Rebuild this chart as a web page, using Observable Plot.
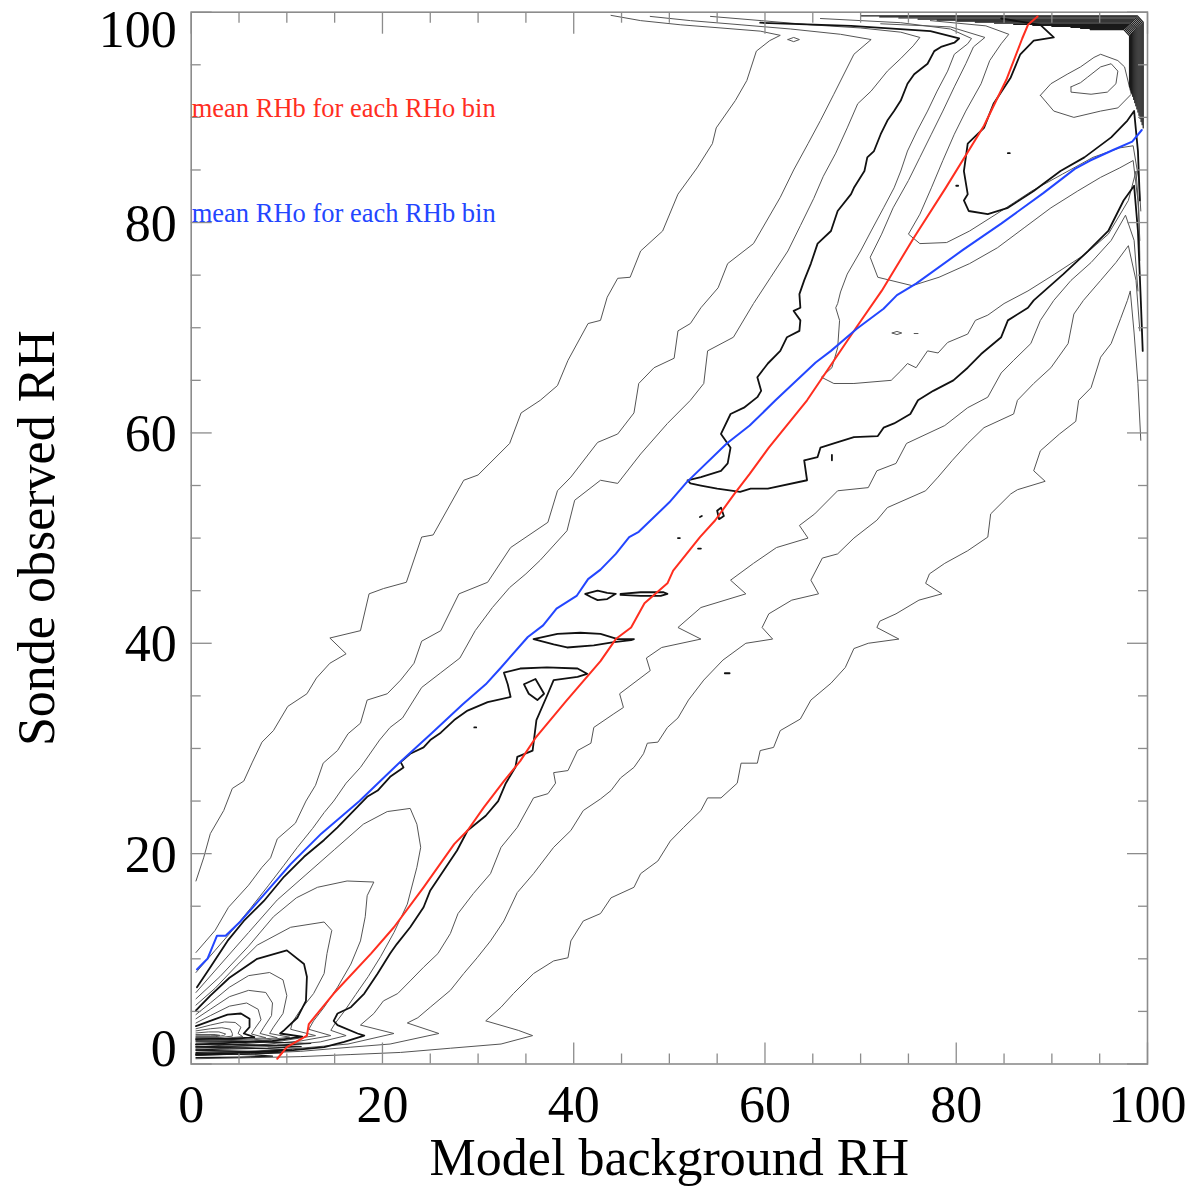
<!DOCTYPE html>
<html><head><meta charset="utf-8">
<script src="https://cdn.jsdelivr.net/npm/d3@7"></script>
<script src="https://cdn.jsdelivr.net/npm/@observablehq/plot@0.6"></script>
<style>html,body{margin:0;padding:0;background:#fff}svg{display:block}</style>
</head><body><div id="chart"></div>
<script>
// ---------- tick values ----------
const majorTicks = [0, 20, 40, 60, 80, 100];
const minorTicks = [5, 10, 15, 25, 30, 35, 45, 50, 55, 65, 70, 75, 85, 90, 95];
const xTickLabels = ["0", "20", "40", "60", "80", "100"];
const yTickLabels = ["0", "20", "40", "60", "80", "100"];
const xTitle = "Model background RH";
const yTitle = "Sonde observed RH";
const redLabel = "mean RHb for each RHo bin";
const blueLabel = "mean RHo for each RHb bin";

// ---------- mean curves [RHb, RHo] ----------
const redMean = [[9.0,0.5],[10.0,1.6],[12.1,2.7],[12.3,3.8],[14.9,6.7],[18.8,10.5],[21.2,13.0],[24.3,16.8],[27.5,20.9],[28.9,22.2],[30.6,24.4],[32.7,26.9],[34.4,28.8],[36.0,31.0],[39.2,34.5],[42.8,38.3],[44.4,40.4],[46.0,41.5],[47.4,43.8],[49.8,45.7],[50.4,46.9],[53.2,50.1],[54.8,51.7],[56.8,54.2],[58.4,56.1],[60.4,58.6],[64.4,63.1],[69.6,70.1],[72.2,73.5],[75.6,78.6],[78.9,83.3],[82.9,89.2],[85.3,93.7],[86.9,97.5],[87.5,98.8],[88.5,99.6]];
const blueMean = [[0.6,9.0],[1.7,10.0],[2.7,12.2],[3.6,12.2],[5.2,13.6],[8.0,16.5],[10.4,19.0],[13.6,21.9],[17.6,25.0],[21.6,28.5],[25.2,31.5],[28.4,34.2],[30.8,36.1],[32.4,37.7],[35.2,40.6],[36.8,41.7],[38.2,43.3],[40.3,44.5],[41.5,46.1],[42.8,47.0],[44.4,48.5],[45.8,50.1],[46.8,50.6],[50.0,53.4],[51.8,55.3],[56.0,59.0],[58.4,60.7],[61.1,63.1],[65.3,66.7],[66.9,67.8],[69.6,69.9],[72.4,71.8],[73.8,73.1],[75.8,74.2],[80.7,77.4],[84.7,79.9],[89.1,82.8],[92.4,85.1],[94.0,85.9],[96.4,86.9],[98.4,87.7],[99.4,88.8]];

// ---------- contour paths [RHb, RHo] ----------
const U1 = [[0.5,17.4],[1.3,19.6],[2.0,21.9],[3.4,24.1],[4.3,26.2],[5.5,26.9],[6.4,28.7],[7.4,30.6],[8.6,31.7],[10.1,34.0],[12.1,35.2],[13.1,36.7],[14.5,38.1],[16.2,39.0],[14.5,40.5],[17.7,41.2],[18.6,44.7],[20.1,45.2],[22.5,45.8],[24.1,50.1],[25.3,50.3],[28.5,55.5],[30.0,56.0],[33.3,59.0],[34.5,61.9],[36.5,63.1],[38.3,64.5],[39.4,66.9],[41.5,70.4],[42.8,70.7],[43.5,72.9],[44.6,74.7],[45.9,74.8],[47.0,77.3],[49.3,79.2],[50.9,82.7],[52.9,85.2],[54.5,87.5],[54.9,89.0],[56.9,91.6],[58.1,93.5],[59.1,96.3],[60.5,97.3],[61.6,97.8],[59.5,98.2],[55.4,98.5],[51.2,98.8],[47.0,99.2],[43.9,99.7]];
const U2 = [[0.5,10.6],[2.5,12.7],[3.9,14.9],[6.0,17.0],[7.4,18.7],[8.3,19.6],[9.0,21.4],[10.9,22.9],[12.0,25.0],[13.0,26.5],[13.8,28.6],[15.3,29.8],[16.4,31.4],[17.7,32.4],[18.4,34.6],[20.5,35.2],[21.9,36.5],[23.3,38.1],[24.1,40.2],[26.1,41.2],[28.0,44.7],[31.0,45.8],[33.4,49.1],[37.3,51.5],[38.3,54.5],[39.7,55.8],[42.5,59.1],[44.6,59.9],[46.3,61.9],[46.8,64.7],[48.4,66.2],[50.5,67.1],[50.9,69.7],[52.2,70.4],[53.3,71.9],[55.1,73.8],[56.1,76.1],[58.8,78.0],[61.6,82.4],[63.0,85.0],[64.5,87.5],[65.8,89.7],[67.2,92.2],[69.3,96.0],[71.1,97.4],[67.9,97.9],[62.7,98.4],[57.5,98.8],[52.2,99.2],[48.0,99.6]];
const U3 = [[0.5,8.7],[2.5,10.8],[4.3,12.7],[6.2,14.8],[8.1,17.0],[9.7,18.9],[11.1,20.6],[12.7,22.4],[13.9,23.9],[14.9,25.0],[16.2,26.7],[17.7,28.2],[19.7,30.8],[20.8,32.0],[22.1,32.9],[24.1,35.8],[26.1,37.2],[28.1,38.6],[29.7,41.2],[31.5,43.4],[33.3,45.3],[35.0,46.6],[36.5,47.9],[39.3,50.7],[40.1,53.6],[42.8,55.5],[44.6,55.2],[47.0,58.0],[49.8,60.9],[52.2,63.1],[53.6,64.7],[54.0,67.8],[56.7,69.1],[58.8,72.3],[60.6,74.8],[62.4,77.3],[63.7,79.7],[65.1,82.3],[66.1,84.4],[67.4,86.6],[68.6,89.0],[69.7,91.3],[71.1,92.5],[72.8,94.4],[74.2,95.6],[75.5,96.8],[76.2,97.6],[74.2,98.1],[70.0,98.5],[64.8,98.8],[59.6,99.2],[54.3,99.6]];
const Klow = [[0.6,7.3],[2.0,9.2],[3.8,11.7],[5.5,13.6],[7.6,15.5],[9.7,17.8],[11.8,19.7],[13.9,21.3],[15.3,22.5],[17.0,24.1],[18.4,25.4],[19.5,26.0],[20.8,27.3],[22.2,28.2],[21.9,28.7],[22.9,29.5],[24.3,30.1],[25.0,30.8],[26.1,31.5],[27.5,32.7],[28.9,33.6],[31.0,34.4],[33.4,34.9],[33.1,36.1],[32.7,37.2],[34.4,37.6],[37.2,37.7],[40.4,37.6],[41.4,37.1],[40.4,36.8],[37.9,36.5],[37.3,35.2],[36.1,32.7],[35.7,29.8],[34.1,29.2],[33.9,28.2],[32.9,26.7],[32.1,25.0],[30.8,23.6],[28.9,22.2],[27.8,20.3],[26.4,18.4],[25.0,16.5],[24.3,14.9],[22.9,13.0],[21.5,11.4],[20.8,10.5],[19.5,8.6],[18.1,6.7],[16.7,5.4],[15.3,4.8],[14.9,4.1],[15.3,3.7],[17.4,2.9],[18.1,2.7],[16.0,2.1],[13.9,1.6],[10.4,1.3],[6.2,1.1],[0.5,0.9]];
const Kup = [[59.5,99.0],[69.0,98.7],[77.3,98.2],[80.3,97.5],[79.8,97.1],[78.4,96.7],[77.7,96.3],[77.0,95.1],[75.6,94.1],[74.9,93.2],[74.2,91.6],[73.5,90.6],[72.8,89.7],[72.1,88.4],[71.4,86.8],[70.7,86.2],[70.4,84.9],[69.3,83.3],[69.0,82.7],[67.6,81.1],[66.9,79.2],[65.5,78.0],[64.8,76.1],[64.1,74.5],[63.6,73.2],[63.7,71.9],[63.0,71.6],[63.7,70.7],[63.6,69.7],[62.3,69.1],[61.6,67.8],[60.3,66.6],[59.2,65.3],[59.6,64.0],[59.2,63.4],[57.8,62.4],[56.4,61.8],[55.4,59.9],[56.4,58.6],[56.1,57.1],[55.4,56.4],[53.3,55.8],[51.9,55.5],[52.2,55.2],[53.3,55.0],[55.0,54.7],[57.4,54.4],[58.5,54.7],[60.3,54.7],[64.4,55.5],[64.1,57.4],[65.5,57.7],[65.8,58.6],[67.2,59.0],[69.3,59.6],[71.8,59.7],[72.4,60.5],[73.5,60.9],[75.2,61.8],[76.0,63.1],[77.6,64.0],[79.7,65.0],[81.2,66.2],[82.6,67.5],[84.7,69.1],[85.4,70.7],[87.5,71.9],[88.1,72.6],[91.2,75.1],[93.8,77.3],[95.9,79.2],[97.5,82.1],[98.6,83.5],[99.0,79.2],[99.3,72.6],[99.5,67.8]];
const I1 = [[65.8,99.4],[74.2,99.0],[79.4,98.4],[81.6,97.5],[81.2,97.0],[79.8,96.0],[79.1,94.4],[78.0,92.5],[77.0,90.6],[75.9,88.7],[74.9,86.8],[74.2,84.9],[73.5,83.3],[72.4,81.4],[71.1,79.2],[70.0,77.3],[68.6,75.1],[67.9,73.4],[67.6,72.3],[67.4,71.9],[67.8,70.7],[67.6,68.1],[67.0,66.2],[65.9,65.3],[67.2,64.7],[69.3,64.7],[73.2,65.0],[74.2,65.9],[74.9,66.6],[75.8,66.2],[77.0,67.8],[78.1,67.6],[79.1,68.6],[81.2,69.4],[82.0,70.7],[83.3,71.2],[85.0,72.3],[87.5,73.5],[90.3,75.1],[93.5,77.0],[95.9,78.9],[98.0,82.1],[98.8,84.9],[99.1,81.1],[99.2,76.4]];
const J6 = [[72.1,98.9],[79.4,98.6],[83.0,97.6],[81.8,96.7],[81.0,95.1],[79.8,92.9],[78.6,90.6],[77.4,88.4],[76.2,86.2],[75.0,84.0],[73.4,81.4],[72.2,78.9],[71.0,76.7],[71.8,74.8],[75.4,74.0],[78.2,74.8],[81.4,76.1],[84.3,77.6],[87.1,79.5],[89.9,81.4],[92.7,83.0],[95.1,84.3],[97.1,85.2],[98.5,85.9],[99.0,82.1],[99.2,78.3]];
const J7 = [[77.3,99.2],[83.1,98.7],[85.5,97.9],[84.7,97.0],[83.5,95.4],[82.6,93.2],[81.0,90.6],[79.8,88.4],[78.6,85.9],[77.4,83.3],[76.2,80.8],[75.0,78.9],[76.2,78.0],[79.0,78.1],[81.4,79.2],[84.7,81.1],[87.9,83.0],[91.1,84.6],[94.3,86.2],[97.1,87.1],[98.5,87.3],[99.1,84.0],[99.3,81.1]];
const I2 = [[84.7,99.4],[88.8,98.8],[90.2,97.6],[88.1,97.3],[86.7,96.0],[85.7,93.8],[83.9,91.3],[82.9,89.0],[81.2,87.5],[80.8,84.9],[81.2,82.7],[80.8,82.1],[81.3,81.1],[83.3,80.8],[85.4,81.4],[88.1,83.0],[90.9,84.9],[93.4,86.2],[96.2,88.1],[97.9,89.7],[98.6,90.6],[99.0,86.8],[99.2,82.1]];
const I3 = [[88.8,92.1],[89.9,93.2],[91.6,94.1],[93.0,94.8],[94.4,95.7],[95.1,96.0],[96.9,95.4],[97.6,94.8],[98.3,92.2],[96.9,90.9],[95.1,90.6],[92.3,90.0],[90.2,90.6],[88.8,92.1]];
const I4 = [[92.0,92.9],[93.0,93.3],[93.7,93.8],[95.1,94.8],[96.2,95.1],[96.9,94.4],[96.7,93.2],[95.8,92.4],[94.1,92.2],[92.0,92.4],[92.0,92.9]];
const L1 = [[0.5,1.0],[6.2,1.2],[11.4,1.5],[16.4,1.9],[21.2,2.9],[17.7,3.7],[19.1,4.8],[20.1,6.0],[21.6,6.7],[22.9,7.9],[24.3,9.2],[25.8,10.5],[27.1,12.4],[27.9,14.3],[29.5,16.2],[31.3,18.1],[32.4,20.6],[34.1,22.5],[35.8,25.3],[37.3,25.7],[38.1,26.7],[37.9,27.7],[39.4,27.9],[40.4,29.8],[41.8,30.5],[42.1,32.0],[44.2,33.3],[45.2,33.9],[44.8,35.2],[48.0,37.4],[47.6,38.6],[49.2,39.6],[53.3,40.4],[50.9,41.5],[53.3,43.4],[58.0,44.7],[56.4,46.0],[58.8,47.6],[61.2,49.1],[64.5,50.0],[63.6,51.2],[65.2,52.3],[67.6,54.5],[70.8,54.8],[71.7,56.4],[73.7,57.1],[74.8,59.0],[78.8,60.7],[81.2,62.4],[83.3,63.4],[84.7,65.7],[86.0,66.9],[87.8,68.5],[88.8,70.7],[90.2,72.6],[92.0,74.5],[94.1,76.2],[96.2,78.3],[97.7,80.7],[98.6,78.3],[99.0,73.5]];
const L2 = [[0.5,0.8],[6.2,1.0],[11.4,1.2],[16.7,1.6],[20.8,1.9],[25.9,2.9],[22.6,3.9],[23.7,4.4],[25.0,5.4],[27.1,7.0],[28.5,8.6],[29.9,10.1],[31.3,11.7],[32.7,13.6],[34.1,16.3],[35.8,18.1],[37.9,20.6],[39.7,22.2],[41.0,24.1],[42.8,25.2],[43.9,26.0],[44.9,27.2],[46.3,28.2],[47.3,29.5],[47.7,30.5],[48.8,30.6],[49.8,32.0],[50.9,32.9],[52.0,34.6],[53.6,36.5],[55.6,38.4],[58.0,40.0],[60.8,40.4],[59.7,41.5],[60.4,42.8],[62.8,44.1],[65.6,44.7],[64.8,46.0],[66.0,48.1],[67.6,48.5],[69.3,50.0],[71.7,51.7],[72.8,52.9],[76.8,54.5],[78.1,55.8],[79.6,57.4],[81.2,59.0],[82.9,60.5],[86.0,61.8],[86.4,63.1],[88.1,64.7],[89.9,66.2],[91.7,68.5],[92.3,71.3],[93.3,72.6],[95.1,74.5],[96.7,76.2],[98.0,77.8],[98.8,74.5],[99.2,69.7]];
const L3 = [[0.5,0.5],[6.2,0.6],[11.4,0.7],[16.7,0.9],[21.9,1.1],[27.1,1.5],[32.4,1.9],[35.7,2.7],[34.2,3.2],[30.8,4.1],[32.4,5.4],[33.7,6.7],[35.8,8.6],[37.9,9.8],[39.4,10.1],[39.7,11.7],[41.0,13.6],[42.8,14.3],[43.9,15.8],[46.3,16.8],[47.0,18.1],[48.8,19.3],[50.1,21.2],[51.5,22.5],[53.3,24.1],[54.0,25.3],[55.4,25.3],[57.1,26.7],[57.5,28.6],[59.2,28.6],[59.5,29.8],[60.9,30.1],[61.6,31.7],[63.7,32.8],[64.8,34.6],[66.9,36.2],[68.4,37.7],[69.3,39.5],[70.8,40.0],[74.0,40.4],[71.7,41.5],[72.0,42.1],[73.7,42.8],[76.1,44.1],[78.5,44.7],[76.8,45.7],[77.2,46.6],[78.8,47.6],[81.2,48.8],[83.3,50.1],[83.6,52.3],[85.7,54.2],[86.4,54.6],[89.3,55.4],[88.1,56.4],[88.8,58.3],[90.8,59.9],[92.5,61.1],[92.8,63.1],[94.1,64.3],[95.1,67.2],[96.2,68.5],[97.2,70.9],[97.9,72.6],[98.2,73.5],[98.6,69.5],[99.0,64.7],[99.3,59.3]];
const N1 = [[0.5,6.8],[3,9.4],[6,12.5],[9,15.6],[12,18.0],[15,20.4],[18,22.8],[20.5,24.0],[22.9,24.3],[23.6,22.8],[24.0,20.6],[23.6,18.7],[22.6,15.2],[21.2,12.5],[19.8,10.2],[18.5,8.3],[17.2,6.6],[16.0,5.0],[15.0,3.8],[14.6,3.2],[16.2,2.7],[13.5,2.1],[9,1.7],[4,1.5],[0.5,1.4]];
const N2 = [[0.5,6.2],[3,8.3],[6,11.2],[8.6,14.0],[11,15.8],[13.2,16.8],[16.3,17.4],[19.1,17.3],[18.4,16.0],[18.2,14.0],[17.7,11.7],[16.7,9.5],[15.3,7.3],[13.9,5.4],[12.8,4.1],[12.3,3.3],[14.6,2.7],[11.5,2.2],[7,1.8],[3,1.6],[0.5,1.5]];
const N3 = [[0.5,5.6],[2.5,7.2],[4.8,9.4],[6.9,11.3],[10.4,13.0],[13.9,13.5],[14.7,12.7],[14.2,10.5],[13.9,8.6],[12.8,6.7],[11.4,5.1],[10.6,4.0],[10.4,3.3],[13.0,2.7],[9.5,2.2],[5,1.9],[2,1.7],[0.5,1.65]];
const N4 = [[0.5,5.1],[2,6.5],[4,8.2],[6.9,10.0],[10.0,10.8],[11.8,9.5],[12.1,8.3],[12.0,6.0],[11.1,4.4],[9.7,3.2],[9.3,2.9],[11.6,2.6],[8.5,2.2],[4,2.0],[0.5,1.85]];
const N5 = [[0.5,4.7],[2,5.8],[4,7.3],[6,8.4],[8.2,8.7],[9.6,8.0],[10.0,6.5],[9.6,4.8],[8.6,3.5],[8.2,2.9],[10.3,2.55],[7.5,2.25],[4,2.1],[0.5,2.0]];
const N6 = [[0.5,4.3],[2,5.2],[4,6.4],[6,7.0],[7.8,6.8],[8.5,5.8],[8.4,4.6],[7.6,3.5],[7.2,2.9],[9.0,2.5],[6.5,2.3],[3,2.2],[0.5,2.15]];
const N7 = [[0.5,3.9],[2,4.6],[4,5.5],[5.8,5.8],[7.0,5.2],[7.3,4.2],[6.6,3.3],[6.3,2.85],[7.8,2.5],[5.5,2.35],[2.5,2.3],[0.5,2.28]];
const N8 = [[0.5,3.6],[2,4.1],[3.8,4.7],[5.2,4.8],[6.1,4.3],[6.1,3.5],[5.5,2.9],[6.6,2.55],[4.5,2.4],[2,2.38],[0.5,2.37]];
const N9 = [[0.5,3.35],[2,3.7],[3.5,4.0],[4.6,3.95],[5.2,3.5],[4.9,2.9],[5.4,2.6],[3.5,2.45],[0.5,2.45]];
const N10 = [[0.5,3.15],[2,3.35],[3.2,3.45],[4.1,3.3],[4.3,2.9],[4.3,2.65],[3,2.52],[0.5,2.52]];
const N11 = [[0.5,2.95],[1.8,3.05],[2.9,3.05],[3.6,2.85],[3.4,2.7],[2.5,2.6],[0.5,2.6]];
const N12 = [[0.5,2.8],[2.5,2.8],[3.0,2.72],[2,2.68],[0.5,2.68]];
// saturated bottom row near the origin
const B1 = [[0.5,2.2],[5,2.15],[9,2.05],[12.5,1.95],[9,1.8],[4,1.7],[0.5,1.65]];
const B2 = [[0.5,1.9],[5,1.85],[9.5,1.75],[11.5,1.65],[8,1.5],[3,1.4],[0.5,1.35]];
const B3 = [[0.5,1.6],[4,1.55],[8,1.45],[10.5,1.35],[7,1.2],[3,1.15],[0.5,1.1]];
const B4 = [[0.5,1.3],[4,1.25],[7.5,1.15],[9.5,1.05],[6,0.95],[0.5,0.85]];
const B5 = [[0.5,1.0],[3.5,0.95],[7,0.85],[8.5,0.75],[5,0.65],[0.5,0.6]];
// saturated top row / right column band
const CB0 = [[70,99.65],[98.95,99.65],[99.55,99.05],[99.55,89.0]];
const CB1 = [[72,99.55],[98.84,99.55],[99.44,98.95],[99.44,89.3]];
const CB2 = [[74,99.45],[98.73,99.45],[99.33,98.85],[99.33,89.6]];
const CB3 = [[76,99.35],[98.62,99.35],[99.22,98.75],[99.22,89.9]];
const CB4 = [[78,99.25],[98.51,99.25],[99.11,98.65],[99.11,90.2]];
const CB5 = [[80,99.15],[98.4,99.15],[99.0,98.55],[99.0,90.5]];
const CB6 = [[82,99.05],[98.29,99.05],[98.89,98.45],[98.89,90.8]];
const CB7 = [[84,98.95],[98.18,98.95],[98.78,98.35],[98.78,91.1]];
const CB8 = [[86,98.85],[98.07,98.85],[98.67,98.25],[98.67,91.4]];
const CB9 = [[88,98.75],[97.96,98.75],[98.56,98.15],[98.56,91.7]];
const CB10 = [[90,98.65],[97.85,98.65],[98.45,98.05],[98.45,92.0]];
const CB11 = [[92,98.55],[97.74,98.55],[98.34,97.95],[98.34,92.3]];
const CB12 = [[93,98.45],[97.63,98.45],[98.23,97.85],[98.23,92.6]];
const CB13 = [[94,98.35],[97.52,98.35],[98.12,97.75],[98.12,92.9]];
// islands
const lensA = [[35.8,40.4],[38.3,40.9],[40.7,41.0],[42.8,40.9],[44.6,40.4],[46.3,40.4],[46.0,40.3],[44.2,40.1],[42.1,39.8],[39.3,39.6],[37.9,39.9],[35.8,40.4]];
const lensB1 = [[41.2,44.7],[42.5,45.0],[43.5,44.8],[44.4,44.7],[43.5,44.2],[42.5,44.1],[41.8,44.4],[41.2,44.7]];
const lensB2 = [[44.9,44.7],[47.0,44.85],[49.4,44.85],[49.8,44.7],[49.1,44.5],[47.0,44.5],[44.9,44.6],[44.9,44.7]];
const diamond = [[34.8,36.1],[36.0,36.6],[36.9,35.2],[36.2,34.6],[35.3,35.2],[34.8,36.1]];
const blob = [[55.0,52.6],[55.4,52.9],[55.7,52.1],[55.2,51.8],[55.0,52.6]];
const dash1 = [[67.0,57.4],[67.0,57.9]];
const dash2 = [[55.8,37.15],[56.3,37.15]];
const dot1 = [[53.2,52.0],[53.4,52.1]];
const dot2 = [[50.9,50.0],[51.1,50.0]];
const dot3 = [[53.0,49.0],[53.3,49.0]];
const dot4 = [[29.6,32.0],[29.8,32.0]];
const topEllipse = [[62.4,97.4],[63.0,97.6],[63.6,97.4],[63.0,97.2],[62.4,97.4]];
const midEllipse = [[73.3,69.5],[73.8,69.65],[74.3,69.5],[73.8,69.35],[73.3,69.5]];
const dot5 = [[75.6,69.45],[76.0,69.45]];
const dot6 = [[85.4,86.6],[85.6,86.6]];
const dot7 = [[80.0,83.5],[80.2,83.5]];

const thinPaths = {U1, U2, U3, I1, J6, J7, I3, I4, L1, L2, L3, N1, N2, N3, N5, N6, N7, N9, N10, N11, N12, topEllipse, midEllipse, dot5};
const densePaths = {B1, B2, B3, B4, B5, CB0, CB1, CB2, CB3, CB4, CB5, CB6, CB7, CB8, CB9, CB10, CB11, CB12, CB13};
const thickPaths = {Klow, Kup, I2, N4, N8, lensA, lensB1, lensB2, diamond, blob, dash1, dash2, dot1, dot2, dot3, dot4, dot6, dot7};

function toRows(paths) {
  const rows = [];
  for (const [id, pts] of Object.entries(paths)) pts.forEach(([x, y], i) => rows.push({id, i, x, y}));
  return rows;
}
const thinRows = toRows(thinPaths);
const denseRows = toRows(densePaths);
const thickRows = toRows(thickPaths);
const redRows = redMean.map(([x, y]) => ({x, y}));
const blueRows = blueMean.map(([x, y]) => ({x, y}));

const RED = "#ff2e1f";
const BLUE = "#2346ff";
const AXIS = "#8c8c8c";
const FONT = "'Liberation Serif','Times New Roman',Times,serif";

const chart = Plot.plot({
  width: 1203,
  height: 1186,
  marginLeft: 190.7,
  marginRight: 56,
  marginTop: 11.7,
  marginBottom: 122.5,
  x: {domain: [0, 100], axis: null},
  y: {domain: [0, 100], axis: null},
  style: {background: "#fff", fontFamily: FONT, color: "#000"},
  marks: [
    Plot.line(thinRows, {x: "x", y: "y", z: "id", stroke: "#555", strokeWidth: 1, strokeLinejoin: "round"}),
    Plot.line(denseRows, {x: "x", y: "y", z: "id", stroke: "#1a1a1a", strokeWidth: 1.2, strokeLinejoin: "round"}),
    Plot.line(thickRows, {x: "x", y: "y", z: "id", stroke: "#111", strokeWidth: 1.8, strokeLinejoin: "round"}),
    Plot.line(redRows, {x: "x", y: "y", stroke: RED, strokeWidth: 2}),
    Plot.line(blueRows, {x: "x", y: "y", stroke: BLUE, strokeWidth: 2}),
    Plot.frame({stroke: AXIS, strokeWidth: 1.6}),
    // ticks (inward) on all four sides
    Plot.axisX({ticks: majorTicks, anchor: "bottom", tickSize: -21, tickFormat: () => "", label: null, stroke: AXIS, strokeWidth: 1.3}),
    Plot.axisX({ticks: minorTicks, anchor: "bottom", tickSize: -10, tickFormat: () => "", label: null, stroke: AXIS, strokeWidth: 1.3}),
    Plot.axisX({ticks: majorTicks, anchor: "top", tickSize: -21, tickFormat: () => "", label: null, stroke: AXIS, strokeWidth: 1.3}),
    Plot.axisX({ticks: minorTicks, anchor: "top", tickSize: -10, tickFormat: () => "", label: null, stroke: AXIS, strokeWidth: 1.3}),
    Plot.axisY({ticks: majorTicks, anchor: "left", tickSize: -21, tickFormat: () => "", label: null, stroke: AXIS, strokeWidth: 1.3}),
    Plot.axisY({ticks: minorTicks, anchor: "left", tickSize: -10, tickFormat: () => "", label: null, stroke: AXIS, strokeWidth: 1.3}),
    Plot.axisY({ticks: majorTicks, anchor: "right", tickSize: -21, tickFormat: () => "", label: null, stroke: AXIS, strokeWidth: 1.3}),
    Plot.axisY({ticks: minorTicks, anchor: "right", tickSize: -10, tickFormat: () => "", label: null, stroke: AXIS, strokeWidth: 1.3}),
    // tick labels
    Plot.text(majorTicks, {x: d => d, text: (d, i) => xTickLabels[i], frameAnchor: "bottom", textAnchor: "middle", lineAnchor: "bottom", dy: 58, fontSize: 52, fill: "#000"}),
    Plot.text(majorTicks.slice(1, 5), {y: d => d, text: (d, i) => yTickLabels[i + 1], frameAnchor: "left", textAnchor: "end", lineAnchor: "bottom", dx: -14.5, dy: 18, fontSize: 52, fill: "#000"}),
    Plot.text([majorTicks[0]], {y: d => d, text: () => yTickLabels[0], frameAnchor: "left", textAnchor: "end", lineAnchor: "bottom", dx: -14.5, dy: 1.5, fontSize: 52, fill: "#000"}),
    Plot.text([majorTicks[5]], {y: d => d, text: () => yTickLabels[5], frameAnchor: "left", textAnchor: "end", lineAnchor: "bottom", dx: -14.5, dy: 35, fontSize: 52, fill: "#000"}),
    // axis titles
    Plot.text([xTitle], {text: d => d, frameAnchor: "bottom", textAnchor: "middle", lineAnchor: "bottom", dy: 110.5, fontSize: 52, fill: "#000"}),
    Plot.text([yTitle], {text: d => d, frameAnchor: "left", textAnchor: "middle", lineAnchor: "bottom", rotate: -90, dx: -137.5, fontSize: 52, fill: "#000"}),
    // in-plot legend
    Plot.text([redLabel], {text: d => d, frameAnchor: "top-left", textAnchor: "start", lineAnchor: "bottom", dx: 0.5, dy: 105, fontSize: 26.5, fill: RED}),
    Plot.text([blueLabel], {text: d => d, frameAnchor: "top-left", textAnchor: "start", lineAnchor: "bottom", dx: 0.5, dy: 209.5, fontSize: 26.5, fill: BLUE})
  ]
});
document.getElementById("chart").appendChild(chart);
</script>
</body></html>
